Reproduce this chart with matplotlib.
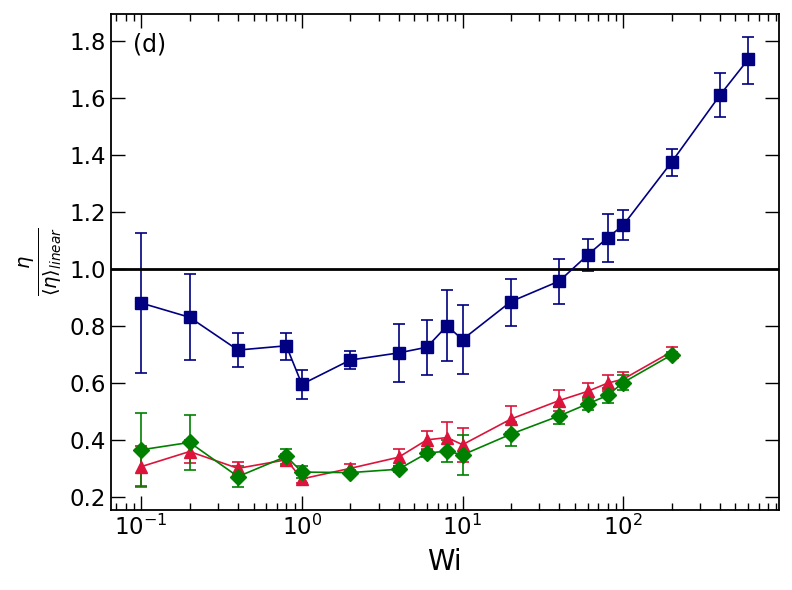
import numpy as np
import matplotlib
matplotlib.use("Agg")
import matplotlib.pyplot as plt

# Wi values (shared x)
wi_blue = [0.1, 0.2, 0.4, 0.8, 1, 2, 4, 6, 8, 10, 20, 40, 60, 80, 100, 200, 400, 600]
eta_blue = [0.88, 0.83, 0.715, 0.73, 0.595, 0.68, 0.705, 0.725, 0.80, 0.752, 0.885, 0.957,
            1.048, 1.109, 1.153, 1.374, 1.609, 1.735]
err_blue_lo = [0.244, 0.15, 0.061, 0.049, 0.051, 0.032, 0.102, 0.096, 0.125, 0.12, 0.085, 0.08,
               0.054, 0.084, 0.051, 0.048, 0.078, 0.085]
err_blue_hi = [0.245, 0.151, 0.06, 0.045, 0.051, 0.033, 0.102, 0.096, 0.127, 0.121, 0.08, 0.079,
               0.055, 0.084, 0.053, 0.048, 0.079, 0.08]

wi_low = [0.1, 0.2, 0.4, 0.8, 1, 2, 4, 6, 8, 10, 20, 40, 60, 80, 100, 200]
eta_red = [0.306, 0.359, 0.30, 0.33, 0.263, 0.30, 0.339, 0.40, 0.408, 0.383, 0.473, 0.538,
           0.570, 0.599, 0.613, 0.709]
err_red = [0.073, 0.04, 0.022, 0.02, 0.015, 0.015, 0.029, 0.032, 0.055, 0.06, 0.045, 0.036,
           0.03, 0.029, 0.025, 0.018]

eta_green = [0.365, 0.391, 0.271, 0.342, 0.287, 0.285, 0.297, 0.353, 0.361, 0.347, 0.42, 0.484,
             0.526, 0.556, 0.601, 0.698]
err_green = [0.128, 0.096, 0.038, 0.025, 0.02, 0.01, 0.01, 0.012, 0.038, 0.07, 0.042, 0.03,
             0.022, 0.025, 0.026, 0.01]

plt.rcParams['font.family'] = ['DejaVu Sans']

fig = plt.figure(figsize=(7.92, 5.9), dpi=100)
ax = fig.add_axes([0.140, 0.1356, 0.843, 0.8407])

ax.errorbar(wi_blue, eta_blue, yerr=[err_blue_lo, err_blue_hi], color='navy', marker='s',
            markersize=9, linewidth=1.2, elinewidth=1.2, capsize=4, capthick=1.2)
ax.errorbar(wi_low, eta_red, yerr=err_red, color='crimson', marker='^',
            markersize=9, linewidth=1.2, elinewidth=1.2, capsize=4, capthick=1.2)
ax.errorbar(wi_low, eta_green, yerr=err_green, color='green', marker='D',
            markersize=8, linewidth=1.2, elinewidth=1.2, capsize=4, capthick=1.2)

ax.axhline(1.0, color='black', linewidth=2)

ax.set_xscale('log')
ax.set_yticks([0.2, 0.4, 0.6, 0.8, 1.0, 1.2, 1.4, 1.6, 1.8])
ax.tick_params(which='both', direction='in', top=True, right=True, labelsize=16.5)
ax.tick_params(which='major', length=10, width=1)
ax.tick_params(which='minor', length=5, width=1)

ax.set_xlabel('Wi', fontsize=20, labelpad=6)
ax.set_ylabel(r'$\frac{\eta}{\langle\eta\rangle_{linear}}$', fontsize=20)
ax.text(0.033, 0.962, '(d)', transform=ax.transAxes, fontsize=17, va='top', ha='left')

for s in ax.spines.values():
    s.set_linewidth(1.3)

fig.savefig('out.png', dpi=100)
